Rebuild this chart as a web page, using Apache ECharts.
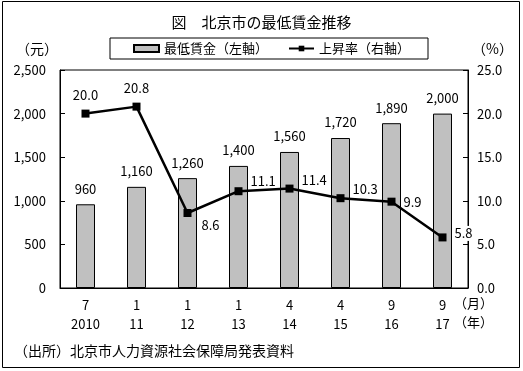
<!DOCTYPE html>
<html><head><meta charset="utf-8">
<script src="https://cdn.jsdelivr.net/npm/echarts@6/dist/echarts.min.js"></script>
<style>html,body{margin:0;padding:0;background:#fff}#c{width:523px;height:371px}</style>
</head><body><div id="c"></div>
<script>
const months = ['7','1','1','1','4','4','9','9'];
const years = ['2010','11','12','13','14','15','16','17'];
const wage = [960,1160,1260,1400,1560,1720,1890,2000];
const rate = [20.0,20.8,8.6,11.1,11.4,10.3,9.9,5.8];
const leftTicks = [0,500,1000,1500,2000,2500];
const rightTicks = [0,5,10,15,20,25];

const F = '"Noto Sans CJK JP", sans-serif';
const cats = months.map((m,i)=>m+'\n'+years[i]);
const rateLabelCfg = [
  {position:'top', distance:8},
  {position:'top', distance:8},
  {position:'right', offset:[0,12], distance:10},
  {position:'right', offset:[0,-10], distance:8},
  {position:'right', offset:[0,-9], distance:8},
  {position:'right', offset:[0,-9], distance:8},
  {position:'right', offset:[0,0], distance:8},
  {position:'right', offset:[0,-4], distance:6, backgroundColor:'#fff', padding:[1,2]}
];
const chart = echarts.init(document.getElementById('c'));
chart.setOption({
  animation:false,
  textStyle:{fontFamily:F, color:'#000'},
  title:{text:'図　北京市の最低賃金推移', left:'center', top:10, textStyle:{fontFamily:F, fontSize:15, fontWeight:'normal', color:'#000'}},
  legend:{top:38, left:110, itemWidth:25, itemHeight:7, itemGap:20,
    borderColor:'#000', borderWidth:1, borderRadius:0, padding:[4,18,4,23],
    textStyle:{fontFamily:F, fontSize:13, color:'#000'},
    data:[{name:'最低賃金（左軸）', icon:'rect'},{name:'上昇率（右軸）'}]},
  grid:{left:60, right:55, top:70, bottom:83, show:true, borderColor:'#000', borderWidth:1, backgroundColor:'transparent'},
  xAxis:{type:'category', data:cats, boundaryGap:true,
    axisLine:{lineStyle:{color:'#000', width:1}},
    axisTick:{inside:true, length:5, lineStyle:{color:'#000'}},
    axisLabel:{color:'#000', fontFamily:F, fontSize:13, lineHeight:19, margin:8}},
  yAxis:[
    {type:'value', min:0, max:2500, interval:500,
     axisLine:{show:true, lineStyle:{color:'#000'}},
     axisTick:{show:true, inside:true, length:5, lineStyle:{color:'#000'}},
     splitLine:{show:false},
     axisLabel:{color:'#000', fontFamily:F, fontSize:13, margin:14, formatter:v=>v.toLocaleString('en-US')}},
    {type:'value', min:0, max:25, interval:5,
     axisLine:{show:true, lineStyle:{color:'#000'}},
     axisTick:{show:true, inside:true, length:5, lineStyle:{color:'#000'}},
     splitLine:{show:false},
     axisLabel:{color:'#000', fontFamily:F, fontSize:13, margin:9, formatter:v=>v.toFixed(1)}}
  ],
  series:[
    {name:'最低賃金（左軸）', type:'bar', data:wage, barWidth:19, yAxisIndex:0,
     itemStyle:{color:'#c0c0c0', borderColor:'#000', borderWidth:1},
     label:{show:true, position:'top', distance:9, color:'#000', fontFamily:F, fontSize:13,
       formatter:p=>p.value.toLocaleString('en-US')}},
    {name:'上昇率（右軸）', type:'line', data:rate.map((v,i)=>({value:v, label:rateLabelCfg[i]})), yAxisIndex:1,
     symbol:'rect', symbolSize:8, z:5,
     lineStyle:{color:'#000', width:2.5}, itemStyle:{color:'#000'},
     label:{show:true, color:'#000', fontFamily:F, fontSize:13, formatter:p=>p.value.toFixed(1)}}
  ],
  graphic:[
    {type:'rect', shape:{x:2.5, y:1.5, width:517, height:366}, style:{fill:'none', stroke:'#000', lineWidth:1}, silent:true},
    {type:'text', left:16, top:42, style:{text:'（元）', font:'14px '+F, fill:'#000'}},
    {type:'text', left:472, top:42, style:{text:'（%）', font:'14px '+F, fill:'#000'}},
    {type:'text', left:454, top:297, style:{text:'（月）', font:'13px '+F, fill:'#000'}},
    {type:'text', left:454, top:316, style:{text:'（年）', font:'13px '+F, fill:'#000'}},
    {type:'text', left:14, top:344, style:{text:'（出所）北京市人力資源社会保障局発表資料', font:'14px '+F, fill:'#000'}}
  ]
});
</script></body></html>
